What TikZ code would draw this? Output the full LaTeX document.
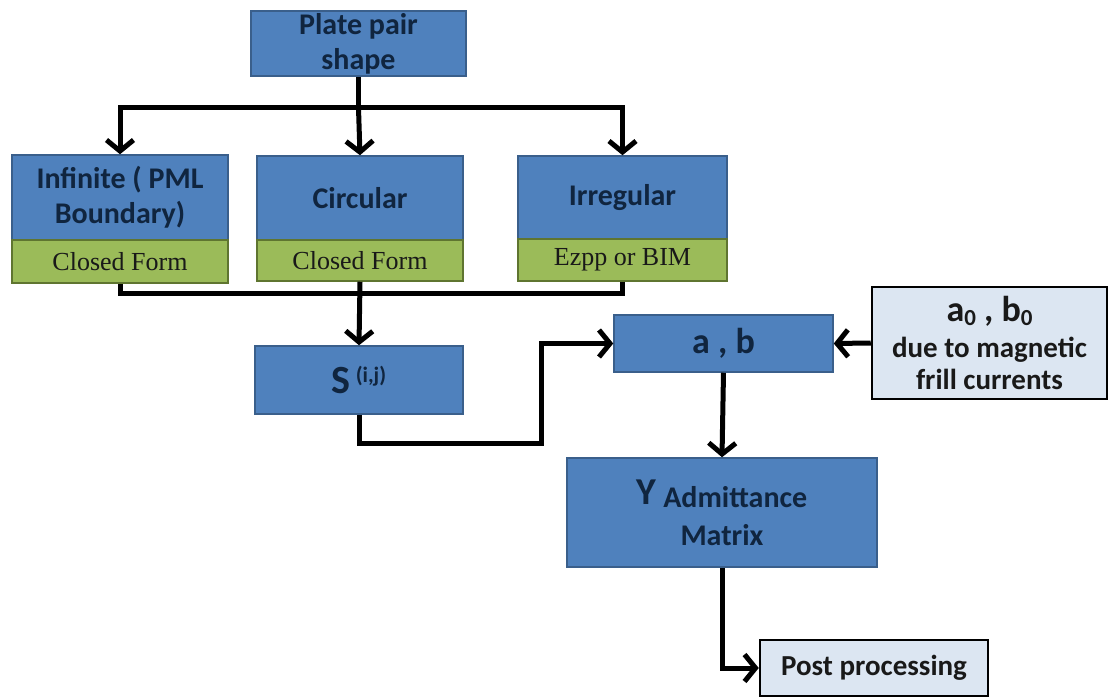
\documentclass[tikz,border=0pt]{standalone}
\usepackage{fontspec}
\setmainfont{Carlito}
\newfontfamily\formfont{Liberation Serif}
\usetikzlibrary{arrows.meta}
\definecolor{boxblue}{HTML}{4F81BD}
\definecolor{blueedge}{HTML}{3A5F8B}
\definecolor{formgreen}{HTML}{9BBB59}
\definecolor{greenedge}{HTML}{5F7530}
\definecolor{paleblue}{HTML}{DCE6F2}
\definecolor{navytext}{HTML}{10253F}
\tikzset{bluebox/.style={draw=blueedge, line width=1.5pt, fill=boxblue,
        text=navytext, font=\bfseries\fontsize{30}{35}\selectfont,
        align=center, inner sep=0pt},
    formbox/.style={draw=greenedge, line width=1.5pt, fill=formgreen,
        text=black!90, font=\formfont\fontsize{26}{28}\selectfont, inner sep=0pt},
    palebox/.style={draw=black, line width=2.5pt, fill=paleblue,
        text=black!90, font=\bfseries\fontsize{29}{32}\selectfont,
        align=center, inner sep=0pt},
    link/.style={line width=5pt},
    arr/.style={link, -{Straight Barb[length=11pt,width=27pt]}},
    }

\begin{document}
\begin{tikzpicture}[x=1pt,y=-1pt]
	\useasboundingbox (0,0) rectangle (1109,698);
	\node[bluebox, minimum width=215, minimum height=65] (plateShape) at (358.5,43.5) {Plate pair\\shape};
	% three kinds of plate
	\node[bluebox, minimum width=216, minimum height=85] (infBox) at (120,197.5) {Infinite ( PML\\Boundary)};
	\node[formbox, minimum width=216, minimum height=43] (infForm) at (120,261.5) {Closed Form};
	\node[bluebox, minimum width=206, minimum height=84] (circBox) at (360,198) {Circular};
	\node[formbox, minimum width=206, minimum height=41] (circForm) at (360,260.5) {Closed Form};
	\node[bluebox, minimum width=209, minimum height=83] (irrBox) at (622.5,197.5) {Irregular};
	\node[formbox, minimum width=209, minimum height=42] (irrForm) at (622.5,260) {Ezpp or BIM};
	% matrices
	\node[bluebox, minimum width=208, minimum height=68] (sMat) at (359,380)
		{{\fontsize{40}{40}\selectfont S}\,\raisebox{11pt}{\fontsize{22}{22}\selectfont (i,j)}};
	\node[bluebox, minimum width=219, minimum height=57, font=\bfseries\fontsize{36}{36}\selectfont] (abVec) at (723.5,343.5) {a , b};
	\node[palebox, minimum width=235, minimum height=112] (abZero) at (989.5,343)
		{{\fontsize{36}{36}\selectfont a\raisebox{-4pt}{\fontsize{23}{23}\selectfont 0} , b\raisebox{-4pt}{\fontsize{23}{23}\selectfont 0}}\\[4pt]
		 due to magnetic\\frill currents};
	\node[bluebox, minimum width=310, minimum height=109, font=\bfseries\fontsize{30}{38}\selectfont] (yMat) at (722,512.5)
		{\raisebox{3pt}{\fontsize{38}{38}\selectfont Y} Admittance\\Matrix};
	\node[palebox, minimum width=228, minimum height=56] (postProc) at (874,668) {Post processing};

	\coordinate (split) at (358.5,108);
	\coordinate (merge) at (360,293);
	\coordinate (loop) at (541,443);
	\draw[link] (plateShape.south) -- (split);
	\draw[arr] (split) -| (infBox.north);
	\draw[arr] (split) -- (circBox.north);
	\draw[arr] (split) -| (irrBox.north);
	\draw[link] (infForm.south) |- (merge);
	\draw[link] (irrForm.south) |- (merge);
	\draw[arr] (circForm.south) -- (sMat.north);
	\draw[arr] (sMat.south) |- (loop) |- (abVec.west);
	\draw[arr] (abZero.west) -- (abVec.east);
	\draw[arr] (abVec.south) -- (yMat.north);
	\draw[arr] (yMat.south) |- (postProc.west);
\end{tikzpicture}
\end{document}
